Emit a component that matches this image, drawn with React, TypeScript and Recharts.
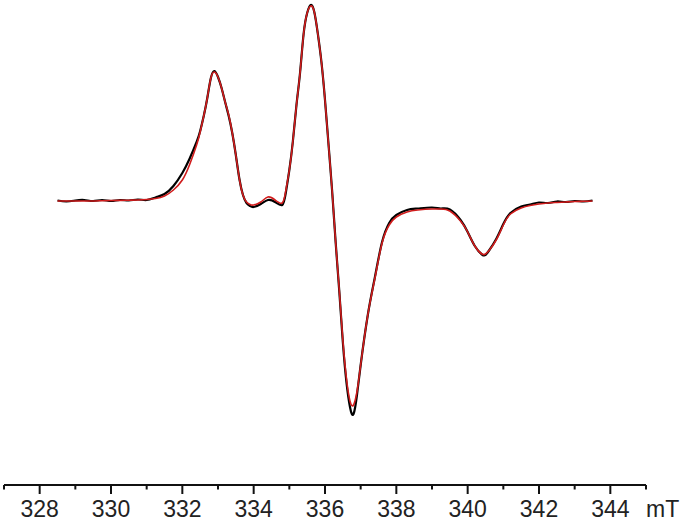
import { LineChart, Line, XAxis, YAxis } from 'recharts';

// magnetic field, mT
const field = [
  328.5, 328.75, 329, 329.25, 329.5, 329.75, 330, 330.25, 330.5, 330.75,
  331, 331.25, 331.5, 331.75, 332, 332.2, 332.4, 332.5, 332.6, 332.7,
  332.8, 332.9, 333, 333.1, 333.2, 333.3, 333.4, 333.5, 333.6, 333.7,
  333.8, 333.9, 334, 334.2, 334.4, 334.6, 334.8, 334.9, 335, 335.1,
  335.2, 335.3, 335.4, 335.5, 335.6, 335.7, 335.8, 335.9, 336, 336.1,
  336.2, 336.3, 336.4, 336.5, 336.6, 336.7, 336.8, 336.9, 337, 337.2,
  337.4, 337.6, 337.8, 338, 338.3, 338.6, 339, 339.25, 339.5, 339.8,
  340, 340.2, 340.4, 340.5, 340.6, 340.8, 341, 341.2, 341.5, 341.75,
  342, 342.25, 342.5, 342.75, 343, 343.25, 343.5,
];

// simulated spectrum (red)
const fitSignal = [
  0, 0, 0, 0, 0, 0.3, 0.5, 0.6, 0.8, 1,
  1.5, 2.5, 5, 11, 21, 36, 56, 69, 85, 103,
  123, 129, 124, 113, 99, 86, 68, 46, 22, 6,
  -1, -3.5, -4, -1, 4, 1, -2, 10, 31, 60,
  96, 128, 167, 188, 195, 189, 167, 139, 101, 56,
  10, -42, -89, -139, -177, -200, -204, -190, -164, -114,
  -77, -42, -24, -16, -11, -9, -8, -8, -10, -20,
  -31, -45, -53, -53, -49.5, -39, -24, -13, -7, -4.5,
  -3, -2, -1.5, -1, -0.5, -0.3, 0,
];

// measured spectrum (black)
const expSignal = [
  0.5, -0.5, 0.5, 1, 0, 1, 0, 1, 0.5, 1.5,
  1, 3.5, 7, 15, 28, 42, 59, 70, 85, 103,
  123, 130, 124, 113, 99, 85, 68, 46, 22, 6,
  -2, -5, -6, -3, 1, -1, -4, 8, 31, 60,
  96, 128, 167, 188, 196, 189, 167, 139, 101, 56,
  10, -42, -90, -141, -181, -206, -213, -193, -164, -114,
  -76, -41, -22, -14, -9, -7.5, -6.5, -7.5, -8.5, -19,
  -31, -45, -53.5, -54, -49.5, -38, -23, -12, -5.5, -3.5,
  -1.5, -2, -0.5, -1, 0, -0.5, 0.5,
];

const fieldTicks = [
  327, 328, 329, 330, 331, 332, 333, 334, 335, 336,
  337, 338, 339, 340, 341, 342, 343, 344, 345,
];

const data = field.map((b, i) => ({ field: b, fit: fitSignal[i], exp: expSignal[i] }));

const font = '"Liberation Sans", Arial, sans-serif';

const FieldTick = ({ x, y, payload }: any) => {
  const v = payload.value;
  const major = v % 2 === 0;
  return (
    <g>
      <line x1={x} x2={x} y1={y} y2={y + (major ? 9 : 4.5)} stroke="#111" strokeWidth={2} />
      {major && (
        <text x={x} y={y + 32} textAnchor="middle" fontSize={23} fontFamily={font} fill="#222">
          {v}
        </text>
      )}
    </g>
  );
};

const UnitLabel = ({ viewBox }: any) => (
  <text
    x={viewBox.x + viewBox.width}
    y={viewBox.y + 32}
    textAnchor="start"
    fontSize={23}
    fontFamily={font}
    fill="#222"
  >
    mT
  </text>
);

export default function App() {
  return (
    <div style={{ position: 'absolute', left: 0, top: 0, background: '#fff' }}>
      <LineChart width={685} height={521} data={data} margin={{ top: 0, right: 39, left: 4, bottom: 0 }}>
        <XAxis
          dataKey="field"
          type="number"
          domain={[327, 345]}
          ticks={fieldTicks}
          interval={0}
          allowDataOverflow
          height={36}
          tickSize={0}
          tickMargin={0}
          tickLine={false}
          axisLine={{ stroke: '#111', strokeWidth: 2 }}
          tick={<FieldTick />}
          label={{ content: <UnitLabel /> } as any}
        />
        <YAxis hide type="number" domain={[-284, 201]} allowDataOverflow />
        <Line
          type="natural"
          dataKey="exp"
          stroke="#000"
          strokeWidth={2.2}
          dot={false}
          isAnimationActive={false}
        />
        <Line
          type="natural"
          dataKey="fit"
          stroke="#d01c1c"
          strokeWidth={1.6}
          dot={false}
          isAnimationActive={false}
        />
      </LineChart>
    </div>
  );
}
